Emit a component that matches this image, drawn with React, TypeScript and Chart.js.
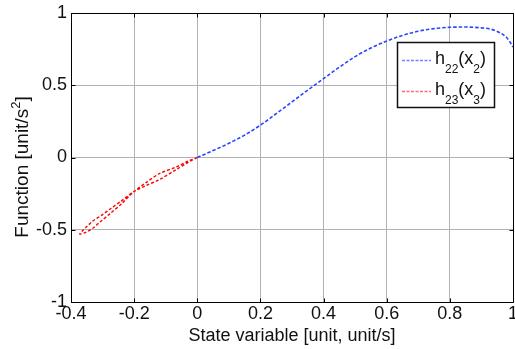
import React, { useEffect, useRef } from "react";
import { Chart, registerables } from "chart.js";

Chart.register(...registerables);

const FONT = '"Liberation Sans", Arial, Helvetica, sans-serif';

// Axis ticks
const xTickValues = [-0.4, -0.2, 0, 0.2, 0.4, 0.6, 0.8, 1];
const xTickLabels = ["-0.4", "-0.2", "0", "0.2", "0.4", "0.6", "0.8", "1"];
const yTickValues = [-1, -0.5, 0, 0.5, 1];
const yTickLabels = ["-1", "-0.5", "0", "0.5", "1"];

// Axis titles
const xTitle = "State variable [unit, unit/s]";
const yTitleMain = "Function [unit/s";
const yTitleSup = "2";
const yTitleEnd = "]";

// Series h22(x2)
const h22X = [0, 0.05, 0.1, 0.15, 0.2, 0.25, 0.3, 0.35, 0.4, 0.45, 0.5, 0.55, 0.6, 0.65, 0.7, 0.75, 0.8, 0.85, 0.9, 0.93, 0.96, 0.98, 0.99, 1.0];
const h22Y = [0, 0.048, 0.098, 0.155, 0.224, 0.303, 0.385, 0.466, 0.546, 0.625, 0.698, 0.758, 0.806, 0.845, 0.874, 0.892, 0.901, 0.903, 0.897, 0.888, 0.862, 0.83, 0.8, 0.765];

// Series h23(x3) — a thin hysteresis loop
const h23X = [0, -0.03, -0.067, -0.12, -0.16, -0.2, -0.24, -0.277, -0.31, -0.33, -0.355, -0.372, -0.365, -0.35, -0.33, -0.3, -0.277, -0.24, -0.2, -0.16, -0.12, -0.067, -0.03, 0];
const h23Y = [0, -0.026, -0.066, -0.112, -0.17, -0.235, -0.32, -0.39, -0.45, -0.488, -0.52, -0.53, -0.51, -0.478, -0.438, -0.395, -0.358, -0.3, -0.235, -0.192, -0.153, -0.084, -0.035, 0];

// Legend entries (underscore-brace marks subscripts)
const seriesLabels = ["h_{22}(x_{2})", "h_{23}(x_{3})"];
const seriesColors = ["rgb(40,70,255)", "rgb(255,0,0)"];
const legendSampleColors = ["rgb(110,135,255)", "rgb(255,105,120)"];

function parseLabel(s: string) {
  const parts: { text: string; sub: boolean }[] = [];
  const re = /_\{([^}]*)\}/g;
  let last = 0;
  let m: RegExpExecArray | null;
  while ((m = re.exec(s))) {
    if (m.index > last) parts.push({ text: s.slice(last, m.index), sub: false });
    parts.push({ text: m[1], sub: true });
    last = m.index + m[0].length;
  }
  if (last < s.length) parts.push({ text: s.slice(last), sub: false });
  return parts;
}

const framePlugin = {
  id: "frame",
  afterDatasetsDraw(chart: any) {
    const { ctx, chartArea: a, scales } = chart;
    ctx.save();
    const L = Math.round(a.left) + 0.5;
    const R = Math.round(a.right) + 0.5;
    const T = Math.round(a.top) + 0.5;
    const B = Math.round(a.bottom) + 0.5;
    ctx.strokeStyle = "#000";
    ctx.lineWidth = 1;
    ctx.beginPath();
    ctx.rect(L, T, R - L, B - T);
    ctx.stroke();
    // inward tick marks
    ctx.beginPath();
    for (const v of xTickValues) {
      const px = Math.round(scales.x.getPixelForValue(v)) + 0.5;
      ctx.moveTo(px, B);
      ctx.lineTo(px, B - 4);
      ctx.moveTo(px, T);
      ctx.lineTo(px, T + 4);
    }
    for (const v of yTickValues) {
      const py = Math.round(scales.y.getPixelForValue(v)) + 0.5;
      ctx.moveTo(L, py);
      ctx.lineTo(L + 4, py);
      ctx.moveTo(R, py);
      ctx.lineTo(R - 4, py);
    }
    ctx.stroke();
    ctx.restore();
  },
  afterDraw(chart: any) {
    const { ctx } = chart;
    ctx.save();
    // Y axis title, rotated, with superscript
    const mainFont = `19px ${FONT}`;
    const supFont = `13px ${FONT}`;
    ctx.font = mainFont;
    const w1 = ctx.measureText(yTitleMain).width;
    const w3 = ctx.measureText(yTitleEnd).width;
    ctx.font = supFont;
    const w2 = ctx.measureText(yTitleSup).width;
    const total = w1 + w2 + w3;
    ctx.translate(28, 167);
    ctx.rotate(-Math.PI / 2);
    ctx.fillStyle = "#111";
    ctx.textBaseline = "alphabetic";
    ctx.textAlign = "left";
    let x = -total / 2;
    ctx.font = mainFont;
    ctx.fillText(yTitleMain, x, 0);
    x += w1;
    ctx.font = supFont;
    ctx.fillText(yTitleSup, x, -8);
    x += w2;
    ctx.font = mainFont;
    ctx.fillText(yTitleEnd, x, 0);
    ctx.restore();

    // Legend
    ctx.save();
    const bx = 397.5, by = 42.5, bw = 97, bh = 65;
    ctx.fillStyle = "#fff";
    ctx.fillRect(bx, by, bw, bh);
    ctx.strokeStyle = "#111";
    ctx.lineWidth = 1.5;
    ctx.strokeRect(bx, by, bw, bh);
    const rowY = [60, 91];
    seriesLabels.forEach((lab, i) => {
      const y = rowY[i];
      ctx.strokeStyle = legendSampleColors[i];
      ctx.lineWidth = 1.3;
      ctx.setLineDash([3, 1.5]);
      ctx.beginPath();
      ctx.moveTo(402, y + 0.5);
      ctx.lineTo(431, y + 0.5);
      ctx.stroke();
      ctx.setLineDash([]);
      ctx.fillStyle = "#111";
      ctx.textBaseline = "alphabetic";
      ctx.textAlign = "left";
      let tx = 435;
      for (const p of parseLabel(lab)) {
        ctx.font = p.sub ? `12px ${FONT}` : `18px ${FONT}`;
        ctx.fillText(p.text, tx, p.sub ? y + 13 : y + 3.5);
        tx += ctx.measureText(p.text).width;
      }
    });
    ctx.restore();
  },
};

function toPoints(xs: number[], ys: number[]) {
  return xs.map((x, i) => ({ x, y: ys[i] }));
}

export default function App() {
  const ref = useRef<HTMLCanvasElement | null>(null);
  useEffect(() => {
    if (!ref.current) return;
    const chart = new Chart(ref.current, {
      type: "scatter",
      data: {
        datasets: [
          {
            label: "h22(x2)",
            data: toPoints(h22X, h22Y),
            showLine: true,
            borderColor: seriesColors[0],
            borderWidth: 1.6,
            borderDash: [3.5, 2],
            pointRadius: 0,
            cubicInterpolationMode: "monotone",
            fill: false,
          },
          {
            label: "h23(x3)",
            data: toPoints(h23X, h23Y),
            showLine: true,
            borderColor: seriesColors[1],
            borderWidth: 1.4,
            borderDash: [3, 2],
            pointRadius: 0,
            tension: 0.3,
            fill: false,
          },
        ],
      },
      options: {
        animation: false,
        responsive: false,
        devicePixelRatio: 1,
        layout: { padding: { left: 0, right: 2, top: 13, bottom: 0 } },
        plugins: {
          legend: { display: false },
          tooltip: { enabled: false },
        },
        scales: {
          x: {
            type: "linear",
            min: -0.4,
            max: 1,
            afterBuildTicks: (s: any) => {
              s.ticks = xTickValues.map((v) => ({ value: v }));
            },
            afterFit: (s: any) => {
              s.height = 47;
              s.paddingLeft = 0;
              s.paddingRight = 0;
            },
            grid: { color: "rgb(178,178,178)", lineWidth: 1, drawTicks: false },
            border: { display: false },
            ticks: {
              color: "#111",
              padding: 1,
              maxRotation: 0,
              autoSkip: false,
              font: { family: FONT, size: 18 },
              callback: (v: any) => xTickLabels[xTickValues.indexOf(Number(v))] ?? "",
            },
            title: {
              display: true,
              text: xTitle,
              color: "#111",
              font: { family: FONT, size: 18 },
              padding: { top: 0, bottom: 2 },
            },
          },
          y: {
            type: "linear",
            min: -1,
            max: 1,
            afterBuildTicks: (s: any) => {
              s.ticks = yTickValues.map((v) => ({ value: v }));
            },
            afterFit: (s: any) => {
              s.width = 71;
              s.paddingTop = 0;
              s.paddingBottom = 0;
            },
            grid: { color: "rgb(178,178,178)", lineWidth: 1, drawTicks: false },
            border: { display: false },
            ticks: {
              color: "#111",
              padding: 4,
              autoSkip: false,
              font: { family: FONT, size: 18 },
              callback: (v: any) => yTickLabels[yTickValues.indexOf(Number(v))] ?? "",
            },
          },
        },
      },
      plugins: [framePlugin],
    } as any);
    return () => chart.destroy();
  }, []);
  return (
    <div style={{ position: "absolute", left: 0, top: 0, width: 515, height: 349, background: "#fff" }}>
      <canvas ref={ref} width={515} height={349} style={{ display: "block", width: 515, height: 349 }} />
    </div>
  );
}
